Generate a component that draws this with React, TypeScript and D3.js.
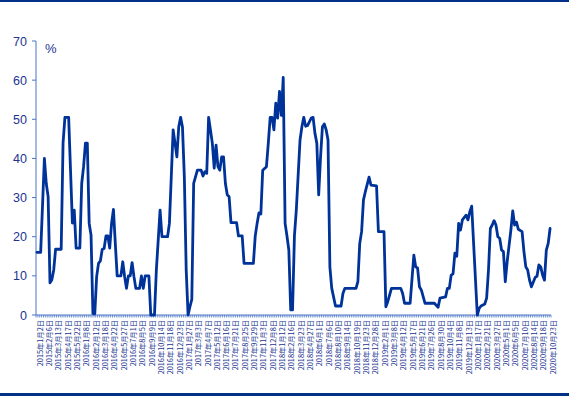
import React from "react";
import * as d3 from "d3";

// X-axis category labels (one every 5 weekly observations)
const dateLabels: string[] = [
  "2015年1月2日", "2015年2月6日", "2015年3月13日", "2015年4月17日", "2015年5月22日",
  "2016年1月8日", "2016年2月12日", "2016年3月18日", "2016年4月22日", "2016年5月27日",
  "2016年7月1日", "2016年8月5日", "2016年9月9日", "2016年10月14日", "2016年11月18日",
  "2016年12月23日", "2017年1月27日", "2017年3月3日", "2017年4月7日", "2017年5月12日",
  "2017年6月16日", "2017年7月21日", "2017年8月25日", "2017年9月29日", "2017年11月3日",
  "2017年12月8日", "2018年1月12日", "2018年2月16日", "2018年3月23日", "2018年4月27日",
  "2018年6月1日", "2018年7月6日", "2018年8月10日", "2018年9月14日", "2018年10月19日",
  "2018年11月23日", "2018年12月28日", "2019年2月1日", "2019年3月8日", "2019年4月12日",
  "2019年5月17日", "2019年6月21日", "2019年7月26日", "2019年8月30日", "2019年10月4日",
  "2019年11月8日", "2019年12月13日", "2020年1月17日", "2020年2月21日", "2020年3月27日",
  "2020年5月1日", "2020年6月5日", "2020年7月10日", "2020年8月14日", "2020年9月18日",
  "2020年10月23日",
];
const labelStep = 5;
const weekCount = 276;

// Series: observation (week index) and value (%) at each turning point of the line
const seriesWeek: number[] = [
  0, 2, 4, 5, 6, 7, 8, 9, 10, 13, 14, 15, 17, 18, 19, 20, 21, 23, 24, 25, 26, 27, 28, 29, 30,
  31, 32, 33, 34, 35, 36, 37, 38, 39, 40, 41, 42, 43, 45, 46, 47, 48, 49, 50, 51, 52, 53, 55,
  56, 57, 58, 60, 61, 63, 64, 66, 67, 70, 71, 73, 74, 75, 76, 77, 78, 79, 80, 81, 82, 83,
  84, 86, 88, 89, 90, 91, 92, 93, 94, 95, 96, 97, 98, 99, 100, 101, 102, 103, 104, 107, 108,
  110, 111, 116, 117, 118, 119, 120, 121, 123, 124, 125, 126, 127, 128, 129, 130, 131, 132,
  133, 134, 135, 136, 137, 138, 139, 141, 142, 143, 144, 145, 147, 148, 149, 150, 151, 152,
  153, 154, 155, 156, 157, 158, 160, 163, 164, 165, 171,
  172, 173, 174, 175, 176, 178, 179, 182, 183, 186, 187, 188, 190, 195, 196, 197, 200, 202,
  203, 204, 205, 206, 208, 213, 215, 216, 219, 220, 221, 222, 223, 224, 225, 226, 227, 228,
  230, 231, 232, 233, 236, 237, 238, 240, 241, 242, 243, 244, 245, 246, 247, 248, 249, 250,
  251, 252, 254, 255, 256, 257, 258, 260, 261, 262, 263, 264, 265, 267, 268, 269, 270, 271,
  272, 273, 274, 275,
];
const seriesValue: number[] = [
  16, 16, 40, 33.6, 30.2, 8.2, 9, 11.5, 16.8, 16.8, 43.9, 50.5, 50.5, 37, 23.5, 26.8, 17.1, 17.1, 33.6, 37.9, 43.9, 43.9, 23.4, 20.4, 0.4,
  0.3, 9.8, 13.2, 13.8, 16.8, 17, 20.2, 20.2, 17.1, 23.4, 27, 18.3, 10, 10, 13.6, 9.8, 6.8, 10, 10, 13.4, 9.8, 6.8, 6.8,
  10, 6.8, 10, 10, 0, 0, 11.5, 26.8, 20, 20, 23.4, 47.3, 43.9, 40.4, 48.1, 50.5, 48, 35.3, 11.5, 0, 2.1, 4,
  33.6, 37, 37, 35.5, 36.6, 36.2, 50.5, 47.3, 43.9, 37.5, 43.4, 37.9, 37, 40.4, 40.4, 33.6, 30.7, 30.2, 23.6, 23.6, 20.2,
  20.2, 13.2, 13.2, 20.2, 23.4, 26.1, 25.8, 37, 37.9, 43.9, 50.5, 50.5, 47.3, 54.1, 50.3, 57.1, 51, 60.7,
  23.4, 20.2, 16.6, 1.3, 1.3, 20.2, 26.8, 44.7, 48.1, 50.5, 48.2, 48.4, 50.3, 50.5, 46.4, 43.9, 30.7, 40.4,
  48.1, 48.8, 47.3, 44.7, 12.3, 6.8, 2.3, 2.3, 5.5, 6.8, 6.8,
  8.5, 18.3, 21.3, 29.4, 31.5, 35.2, 33.2, 33, 21.3, 21.3, 2.1, 3.4, 6.8, 6.8, 5.5, 3, 3, 15.3,
  12.3, 12, 7.2, 6.4, 3, 3, 2, 4.3, 4.6, 6.8, 6.8, 10.2, 10.5, 15.8, 15, 23.4, 21.7, 24.3,
  25.5, 24.3, 26.4, 27.8, 0, 1.7, 2.3, 2.8, 4.3, 11.5, 22.1, 23, 24.1, 23, 20, 19.6, 16.6, 16.2,
  8.5, 13.6, 21.7, 26.6, 23, 23.7, 21.9, 21.3, 16.2, 12.3, 11.5, 8.9, 7.2, 9.6, 9.9, 12.8, 12.3, 10.2,
  8.9, 16.6, 18.3, 22.1,
];
const yTicks: number[] = [0, 10, 20, 30, 40, 50, 60, 70];
const unitLabel = "%";

const W = 569;
const H = 396;

export default function App() {
  const x = d3.scaleLinear().domain([-0.5, weekCount - 0.5]).range([36, 551]);
  const y = d3.scaleLinear().domain([0, 70]).range([315, 41]);

  const points = seriesWeek.map((w, i) => [w, seriesValue[i]] as [number, number]);
  const linePath = d3
    .line<[number, number]>()
    .x((d) => x(d[0]))
    .y((d) => y(d[1]))(points) as string;

  const axisColor = "#4a74c6";
  const textColor = "#22338f";
  const boundaries = d3.range(weekCount + 1).map((i) => i - 0.5);

  return (
    <svg
      width={W}
      height={H}
      style={{ position: "absolute", left: 0, top: 0, background: "#fff" }}
      xmlns="http://www.w3.org/2000/svg"
    >
      <rect x={0} y={0} width={W} height={H} fill="#fff" />
      {/* frame lines */}
      <rect x={0} y={0} width={W} height={2} fill="#003087" />
      <rect x={0} y={393} width={W} height={3} fill="#003087" />

      {/* Y axis */}
      <line x1={36} x2={36} y1={y(70)} y2={y(0)} stroke={axisColor} strokeWidth={1} />
      {yTicks.map((t) => (
        <g key={t}>
          <line x1={32} x2={36} y1={y(t)} y2={y(t)} stroke={axisColor} strokeWidth={1} />
          <text
            x={27}
            y={y(t)}
            dy="0.36em"
            textAnchor="end"
            fontFamily="Liberation Sans, Arial, sans-serif"
            fontSize={12.5}
            fill={textColor}
          >
            {t}
          </text>
        </g>
      ))}
      <text
        x={45}
        y={53}
        fontFamily="Liberation Sans, Arial, sans-serif"
        fontSize={13}
        fill={textColor}
      >
        {unitLabel}
      </text>

      {/* X axis */}
      <line x1={x(-0.5)} x2={x(weekCount - 0.5)} y1={315} y2={315} stroke={axisColor} strokeWidth={1} />
      {boundaries.map((b) => (
        <line
          key={b}
          x1={x(b)}
          x2={x(b)}
          y1={315}
          y2={317.5}
          stroke={axisColor}
          strokeWidth={0.8}
        />
      ))}
      {dateLabels.map((lab, i) => {
        const cx = x(i * labelStep) + 3;
        return (
          <text
            key={lab}
            transform={`translate(${cx},320) rotate(-90)`}
            dy="0.36em"
            textAnchor="end"
            fontFamily="Noto Sans CJK SC, sans-serif"
            fontSize={7.3}
            fill={textColor}
          >
            {lab}
          </text>
        );
      })}

      {/* series line */}
      <path
        d={linePath}
        fill="none"
        stroke="#003399"
        strokeWidth={2.8}
        strokeLinejoin="round"
        strokeLinecap="round"
      />
    </svg>
  );
}
